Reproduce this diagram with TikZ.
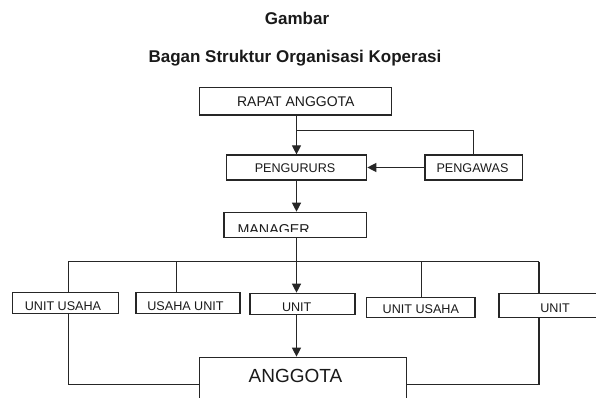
\documentclass[tikz,border=0pt]{standalone}
\usepackage{fontspec}
\setmainfont{Liberation Sans}
\usetikzlibrary{arrows.meta}
\definecolor{ln}{HTML}{262626}
\definecolor{tx}{HTML}{1A1A1A}
\tikzset{
  box/.style={draw=ln, line width=1.2pt, inner sep=0pt, fill=white},
  conn/.style={draw=ln, line width=1.2pt},
  arr/.style={conn, -{Triangle[length=9pt,width=9pt]}},
  txt/.style={inner sep=0pt, text=tx, anchor=base},
  small/.style={txt, font=\fontsize{12.6}{14}\selectfont},
  mid/.style={txt, font=\fontsize{14}{16}\selectfont},
  big/.style={txt, font=\fontsize{19}{22}\selectfont},
  ttl/.style={txt, font=\fontsize{17}{20}\selectfont\bfseries}
}
\begin{document}
\begin{tikzpicture}[x=1pt,y=-1pt]
\useasboundingbox (0,0) rectangle (596,398);
\fill[white] (0,0) rectangle (596,398);
\clip (0,0) rectangle (596,398);

% titles
\node[ttl] (gambar) at (297,25) {Gambar};
\node[ttl] (judul) at (295,62.7) {Bagan Struktur Organisasi Koperasi};

% boxes
\node[box, minimum width=192.4pt, minimum height=27.7pt] (rapat) at (295.5,101.2) {};
\node[box, minimum width=140pt, minimum height=25pt] (pengurus) at (296.7,167.5) {};
\node[box, minimum width=97.3pt, minimum height=25pt] (pengawas) at (473.7,167.5) {};
\node[box, minimum width=142.7pt, minimum height=25pt] (manager) at (295.4,224.8) {};
\node[box, minimum width=105.6pt, minimum height=20.6pt] (u1) at (65.5,303) {};
\node[box, minimum width=104pt, minimum height=20.6pt] (u2) at (188,303) {};
\node[box, minimum width=105pt, minimum height=21pt] (u3) at (302.5,303.8) {};
\node[box, minimum width=108.3pt, minimum height=20.4pt] (u4) at (420.9,307.5) {};
\node[box, minimum width=111pt, minimum height=24pt] (u5) at (554.5,305.3) {};
\node[box, minimum width=207.4pt, minimum height=62.7pt] (anggota) at (303,388.6) {};

% texts
\node[mid] (trapat) at (295.8,106.7) {RAPAT ANGGOTA};
\node[small] (tpengurus) at (295,172.7) {PENGURURS};
\node[small] (tpengawas) at (472.5,172.7) {PENGAWAS};
\begin{scope}
  \clip (225,213) rectangle (366,231.7);
  \node[mid, anchor=base west, font=\fontsize{14.3}{16}\selectfont] (tmanager) at (237.3,234) {MANAGER};
\end{scope}
\node[small] (tu1) at (63,310.7) {UNIT USAHA};
\node[small] (tu2) at (185.5,310.7) {USAHA UNIT};
\node[small] (tu3) at (296.7,311) {UNIT};
\node[small] (tu4) at (420.8,313.3) {UNIT USAHA};
\node[small] (tu5) at (555,312.3) {UNIT};
\node[big] (tanggota) at (295.5,382.3) {ANGGOTA};

% coordinates
\coordinate (sp) at (296.5,0);
\coordinate (j1) at (296.5,130.7);
\coordinate (bus) at (296.5,261.5);
\coordinate (bL) at (68.3,261.5);
\coordinate (b2) at (176.7,261.5);
\coordinate (b4) at (421.7,261.5);
\coordinate (bR) at (539,261.5);
\coordinate (lowL) at (68.3,384.3);
\coordinate (lowR) at (539,384.3);

% connectors
\draw[arr] (rapat.south -| sp) -- (pengurus.north -| sp);
\draw[conn] (j1) -| (pengawas.north);
\draw[arr] (pengawas.west) -- (pengurus.east);
\draw[arr] (pengurus.south -| sp) -- (manager.north -| sp);
\draw[conn] (manager.south -| sp) -- (bus);
\draw[conn] (bL) -- (bR);
\draw[conn] (bL) -- (bL |- u1.north);
\draw[conn] (b2) -- (b2 |- u2.north);
\draw[arr] (bus) -- (bus |- u3.north);
\draw[conn] (b4) -- (b4 |- u4.north);
\draw[conn] (bR) -- (bR |- u5.north);
\draw[conn] (bL |- u1.south) -- (lowL) -- (lowL -| anggota.west);
\draw[conn] (bR |- u5.south) -- (lowR) -- (lowR -| anggota.east);
\draw[arr] (bus |- u3.south) -- (bus |- anggota.north);
\end{tikzpicture}
\end{document}
